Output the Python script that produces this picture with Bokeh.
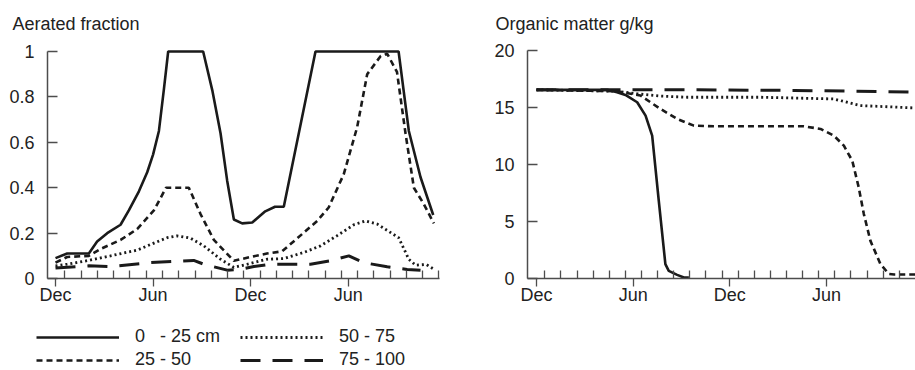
from bokeh.plotting import figure
from bokeh.layouts import row
from bokeh.models import FixedTicker, Range1d, Legend, LegendItem
from bokeh.embed import file_html
from bokeh.resources import INLINE

# ---------------- data (months since first December) ----------------
month_ticks = [0, 6, 12, 18]
month_labels = ["Dec", "Jun", "Dec", "Jun"]
left_minor = [k + 0.58 for k in range(24)]
right_minor = [k + 0.52 for k in range(23)]

series_labels = ["0\u00a0\u00a0\u00a0- 25 cm", "25 - 50", "50 - 75", "75 - 100"]

# Aerated fraction
af_m_1 = [0, 0.72, 2.05, 2.56, 3.18, 4.0, 4.51, 5.13, 5.64, 6.0, 6.36, 6.66, 6.93, 9.08, 9.64,
          10.15, 10.56, 10.97, 11.48, 12.1, 12.9, 13.5, 14.04, 15.99, 21.1, 21.73, 22.45, 23.23]
af_v_1 = [0.09, 0.11, 0.11, 0.163, 0.2, 0.237, 0.30, 0.384, 0.468, 0.546, 0.65, 0.83, 1.0, 1.0, 0.83,
          0.64, 0.43, 0.26, 0.243, 0.247, 0.296, 0.316, 0.316, 1.0, 1.0, 0.65, 0.446, 0.28]

af_m_2 = [0, 0.72, 2.05, 2.77, 4.0, 5.02, 6.05, 6.8, 8.2, 8.92, 9.74, 10.97, 12.0, 13.0, 13.94,
          15.17, 16.1, 16.8, 17.73, 18.55, 19.17, 20.0, 20.4, 21.0, 21.53, 22.04, 22.65, 23.27]
af_v_2 = [0.07, 0.095, 0.10, 0.13, 0.17, 0.218, 0.30, 0.40, 0.40, 0.284, 0.17, 0.078, 0.095, 0.11, 0.12,
          0.196, 0.254, 0.313, 0.46, 0.666, 0.90, 0.98, 0.99, 0.91, 0.637, 0.40, 0.328, 0.243]

af_m_3 = [0, 0.72, 2.05, 3.38, 5.02, 6.05, 6.87, 7.48, 8.3, 9.12, 10.15, 10.97, 11.79, 13.0, 14.04,
          15.27, 16.3, 17.3, 18.35, 19.07, 19.78, 21.1, 21.73, 22.14, 22.8, 23.3]
af_v_3 = [0.056, 0.063, 0.08, 0.10, 0.125, 0.156, 0.18, 0.188, 0.178, 0.144, 0.085, 0.049, 0.063, 0.085, 0.088,
          0.115, 0.144, 0.188, 0.237, 0.254, 0.24, 0.18, 0.085, 0.059, 0.062, 0.04]

af_m_4 = [0, 2.05, 3.38, 5.84, 8.5, 9.12, 10.56, 11.38, 12.2, 13.22, 15.68, 16.9, 18.04, 18.96,
          20.4, 21.63, 22.45]
af_v_4 = [0.046, 0.056, 0.053, 0.07, 0.08, 0.063, 0.037, 0.041, 0.053, 0.063, 0.063, 0.078, 0.10, 0.07,
          0.052, 0.04, 0.036]

# Organic matter g/kg
om_m_1 = [0, 4.39, 5.0, 5.52, 6.25, 6.77, 7.18, 7.59, 8.0, 8.21, 8.73, 9.15, 9.46]
om_v_1 = [16.55, 16.55, 16.34, 16.1, 15.46, 14.29, 12.53, 6.82, 1.26, 0.67, 0.32, 0.09, 0.09]

om_m_2 = [0, 5.0, 6.45, 7.7, 8.73, 9.77, 11.0, 16.6, 17.63, 18.46, 19.08, 19.6, 20.0, 20.32,
          20.73, 21.35, 21.87, 22.2, 23.5]
om_v_2 = [16.55, 16.43, 16.05, 14.87, 14.0, 13.41, 13.35, 13.35, 13.12, 12.53, 11.65, 10.34, 8.0, 5.65,
          3.3, 1.26, 0.4, 0.35, 0.35]

om_m_3 = [0, 5.0, 6.25, 7.7, 9.35, 13.9, 18.45, 20.1, 23.5]
om_v_3 = [16.55, 16.43, 16.2, 16.0, 15.9, 15.9, 15.75, 15.17, 14.96]

om_m_4 = [0, 10.0, 16.0, 23.5]
om_v_4 = [16.55, 16.55, 16.5, 16.35]

af_ticks = [0, 0.2, 0.4, 0.6, 0.8, 1.0]
af_tick_labels = ["0", "0.2", "0.4", "0.6", "0.8", "1"]
om_ticks = [0, 5, 10, 15, 20]
om_tick_labels = ["0", "5", "10", "15", "20"]

# ---------------- styling ----------------
FONT = "Liberation Sans"
INK = "#1a1a1a"
AXIS = "#4d4d4d"
styles = [
    dict(line_width=2.6, line_dash="solid"),
    dict(line_width=2.6, line_dash="6 4"),
    dict(line_width=2.8, line_dash="2 3"),
    dict(line_width=3.0, line_dash="20 12"),
]


def make_fig(title, xr, yr, frame_w, title_offset, x_axis_start, x_axis_end, ytop,
             minor, yticks, ylabels):
    p = figure(frame_width=frame_w, frame_height=334, x_range=xr, y_range=yr,
               min_border_left=0, min_border_right=0,
               min_border_top=36, min_border_bottom=0,
               output_backend="svg", toolbar_location=None, title=title)
    p.title.text_font = FONT
    p.title.text_font_size = "18px"
    p.title.text_font_style = "normal"
    p.title.text_color = "#222222"
    p.title.align = "left"
    p.title.offset = title_offset
    p.title.standoff = 5
    p.outline_line_color = None
    p.xgrid.visible = False
    p.ygrid.visible = False
    p.background_fill_color = "white"
    p.border_fill_color = "white"
    for ax in (p.xaxis[0], p.yaxis[0]):
        ax.axis_line_color = AXIS
        ax.axis_line_width = 1.5
        ax.major_tick_line_color = AXIS
        ax.major_tick_line_width = 1.3
        ax.minor_tick_line_color = AXIS
        ax.minor_tick_line_width = 1.3
        ax.major_label_text_font = FONT
        ax.major_label_text_font_size = "18px"
        ax.major_label_text_color = "#222222"
    xa, ya = p.xaxis[0], p.yaxis[0]
    xa.fixed_location = 0
    xa.bounds = (x_axis_start, x_axis_end)
    xa.ticker = FixedTicker(ticks=month_ticks, minor_ticks=minor)
    xa.major_label_overrides = dict(zip(month_ticks, month_labels))
    xa.major_tick_in = 0
    xa.major_tick_out = 8
    xa.minor_tick_in = 8
    xa.minor_tick_out = 0
    xa.major_label_standoff = -2
    ya.fixed_location = x_axis_start
    ya.bounds = (0, ytop)
    ya.ticker = FixedTicker(ticks=yticks, minor_ticks=[])
    ya.major_label_overrides = dict(zip(yticks, ylabels))
    ya.major_tick_in = 10
    ya.major_tick_out = 0
    ya.minor_tick_in = 0
    ya.minor_tick_out = 0
    ya.major_label_standoff = 13
    return p


# ---- left figure: aerated fraction (frame spans the whole panel, axes fixed at 0) ----
pl = make_fig("Aerated fraction", Range1d(-3.383, 24.60), Range1d(-0.405, 1.066),
              455, 12, -0.492, 23.616, 1, left_minor, af_ticks, af_tick_labels)

af = [(af_m_1, af_v_1), (af_m_2, af_v_2), (af_m_3, af_v_3), (af_m_4, af_v_4)]
renderers = []
for (mx, vy), st in zip(af, styles):
    renderers.append(pl.line(mx, vy, line_color=INK, **st))

legend = Legend(items=[LegendItem(label=lab, renderers=[r]) for lab, r in zip(series_labels, renderers)],
                location=(36, 0), orientation="vertical", nrows=2,
                glyph_width=83, glyph_height=20, label_height=20, label_width=103,
                label_standoff=16, spacing=2, padding=0, margin=0,
                border_line_color=None, background_fill_alpha=0,
                label_text_font=FONT, label_text_font_size="18px", label_text_color="#222222")
pl.add_layout(legend)

# ---- right figure: organic matter ----
pr = make_fig("Organic matter g/kg", Range1d(-5.028, 23.526), Range1d(-8.07, 21.228),
              460, 40, -0.559, 23.526, 20, right_minor, om_ticks, om_tick_labels)

om = [(om_m_1, om_v_1), (om_m_2, om_v_2), (om_m_3, om_v_3), (om_m_4, om_v_4)]
for (mx, vy), st in zip(reversed(om), reversed(styles)):
    pr.line(mx, vy, line_color=INK, **st)

layout = row(pl, pr)
open("out.html", "w").write(file_html(layout, INLINE))
